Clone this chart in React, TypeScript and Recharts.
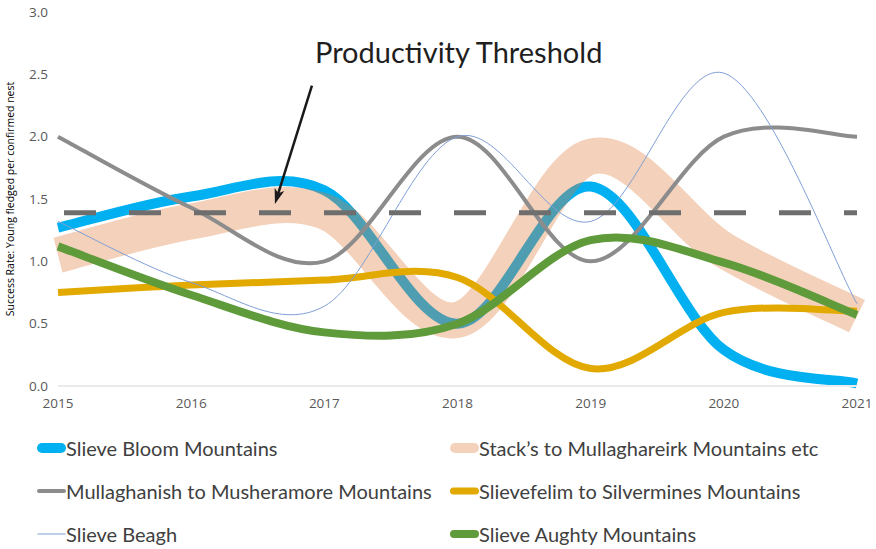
import { LineChart, Line, XAxis, YAxis, ReferenceLine, Label } from 'recharts';

const YEARS = [2015, 2016, 2017, 2018, 2019, 2020, 2021];
const Y_TICKS = [0, 0.5, 1, 1.5, 2, 2.5, 3];

const slieveBloom = [1.27, 1.52, 1.57, 0.5, 1.6, 0.29, 0.02];
const stacks = [1.05, 1.32, 1.4, 0.53, 1.84, 1.09, 0.56];
const mullaghanish = [2.0, 1.43, 1.0, 2.0, 1.0, 2.0, 2.0];
const slievefelim = [0.75, 0.81, 0.85, 0.87, 0.14, 0.59, 0.6];
const slieveBeagh = [1.32, 0.83, 0.64, 2.0, 1.32, 2.51, 0.66];
const slieveAughty = [1.12, 0.73, 0.43, 0.5, 1.17, 0.99, 0.57];

const THRESHOLD = 1.39;
// arrow from the annotation down to the threshold line
const ARROW = [
  { x: 2016.907, y: 2.41 },
  { x: 2016.629, y: 1.46 },
];

const SERIES = [
  { key: 'bloom', name: 'Slieve Bloom Mountains', values: slieveBloom, color: '#00B0F0', width: 10, opacity: 1 },
  { key: 'stacks', name: 'Stack’s to Mullaghareirk Mountains etc', values: stacks, color: '#E07B39', width: 36, opacity: 0.35 },
  { key: 'mull', name: 'Mullaghanish to Musheramore Mountains', values: mullaghanish, color: '#8C8C8C', width: 4, opacity: 1 },
  { key: 'felim', name: 'Slievefelim to Silvermines Mountains', values: slievefelim, color: '#E2AA00', width: 7, opacity: 1 },
  { key: 'beagh', name: 'Slieve Beagh', values: slieveBeagh, color: '#7F9FD6', width: 1, opacity: 1 },
  { key: 'aughty', name: 'Slieve Aughty Mountains', values: slieveAughty, color: '#5F9B3B', width: 8, opacity: 1 },
];

const data = YEARS.map((year, i) => {
  const row: Record<string, number> = { year };
  SERIES.forEach((s) => {
    row[s.key] = s.values[i];
  });
  return row;
});

// Excel-like smoothing (Catmull-Rom bezier)
function excelSmooth(context: any) {
  let pts: number[][] = [];
  return {
    areaStart() {},
    areaEnd() {},
    lineStart() {
      pts = [];
    },
    point(x: number, y: number) {
      pts.push([+x, +y]);
    },
    lineEnd() {
      if (!pts.length) return;
      context.moveTo(pts[0][0], pts[0][1]);
      for (let i = 0; i < pts.length - 1; i++) {
        const p0 = pts[i - 1] || pts[i];
        const p1 = pts[i];
        const p2 = pts[i + 1];
        const p3 = pts[i + 2] || p2;
        context.bezierCurveTo(
          p1[0] + (p2[0] - p0[0]) / 6,
          p1[1] + (p2[1] - p0[1]) / 6,
          p2[0] - (p3[0] - p1[0]) / 6,
          p2[1] - (p3[1] - p1[1]) / 6,
          p2[0],
          p2[1],
        );
      }
    },
  };
}

function ArrowShape(props: any) {
  const { x1, y1, x2, y2 } = props;
  const ang = Math.atan2(y2 - y1, x2 - x1);
  const len = 16;
  const spread = 0.32;
  const ax = x2 - len * Math.cos(ang - spread);
  const ay = y2 - len * Math.sin(ang - spread);
  const bx = x2 - len * Math.cos(ang + spread);
  const by = y2 - len * Math.sin(ang + spread);
  const mx = x2 - len * 0.7 * Math.cos(ang);
  const my = y2 - len * 0.7 * Math.sin(ang);
  return (
    <g>
      <line x1={x1} y1={y1} x2={mx} y2={my} stroke="#1a1a1a" strokeWidth={2.5} />
      <polygon points={`${x2},${y2} ${ax},${ay} ${mx},${my} ${bx},${by}`} fill="#1a1a1a" />
    </g>
  );
}

const legendRows = [
  [SERIES[0], SERIES[1]],
  [SERIES[2], SERIES[3]],
  [SERIES[4], SERIES[5]],
];

export default function App() {
  return (
    <div style={{ position: 'absolute', left: 0, top: 0, width: 876, height: 549, background: '#fff', fontFamily: 'Lato, sans-serif' }}>
      <LineChart width={876} height={430} data={data} margin={{ top: 12, right: 19, left: 0, bottom: 0 }}>
        <XAxis
          dataKey="year"
          type="number"
          domain={[2015, 2021]}
          ticks={YEARS}
          tick={{ fill: '#595959', fontSize: 13.5, fontFamily: 'Open Sans, sans-serif' }}
          tickLine={false}
          axisLine={{ stroke: '#ebebeb', strokeWidth: 2 }}
          tickMargin={6}
          height={44}
        />
        <YAxis
          domain={[0, 3]}
          ticks={Y_TICKS}
          tickFormatter={(v) => Number(v).toFixed(1)}
          tick={{ fill: '#595959', fontSize: 13.5, fontFamily: 'Open Sans, sans-serif' }}
          tickLine={false}
          axisLine={false}
          tickMargin={4}
          width={58}
        >
          <Label
            value="Success Rate:  Young fledged per confirmed nest"
            angle={-90}
            position="insideLeft"
            offset={10}
            style={{ textAnchor: 'middle', fill: '#000', fontSize: 10.5, fontFamily: 'Open Sans, sans-serif' }}
          />
        </YAxis>
        {SERIES.map((s) => (
          <Line
            key={s.key}
            dataKey={s.key}
            name={s.name}
            type={excelSmooth as any}
            stroke={s.color}
            strokeOpacity={s.opacity}
            strokeWidth={s.width}
            strokeLinecap="butt"
            dot={false}
            activeDot={false}
            isAnimationActive={false}
          />
        ))}
        <ReferenceLine
          y={THRESHOLD}
          stroke="#6E6E6E"
          strokeWidth={5}
          strokeDasharray="32 33"
          strokeDashoffset={59}
        />
        <ReferenceLine segment={ARROW} shape={<ArrowShape />} ifOverflow="visible" />
      </LineChart>
      <div
        style={{
          position: 'absolute',
          left: 315,
          top: 34,
          fontSize: 29,
          color: '#1f1f1f',
          whiteSpace: 'nowrap',
          lineHeight: '36px',
        }}
      >
        Productivity Threshold
      </div>
      {legendRows.map((row, r) =>
        row.map((s, c) => (
          <div
            key={s.key}
            style={{
              position: 'absolute',
              left: c === 0 ? 37 : 450,
              top: 448 + r * 43 - 14,
              height: 28,
              display: 'flex',
              alignItems: 'center',
              whiteSpace: 'nowrap',
              fontSize: 20,
              color: '#404040',
            }}
          >
            <svg width={29} height={14} style={{ display: 'block' }}>
              <line
                x1={Math.min(5, s.width / 2)}
                y1={7}
                x2={29 - Math.min(5, s.width / 2)}
                y2={7}
                stroke={s.color}
                strokeOpacity={s.opacity}
                strokeWidth={Math.min(s.width, 10)}
                strokeLinecap={s.width > 1 ? 'round' : 'butt'}
              />
            </svg>
            <span>{s.name}</span>
          </div>
        )),
      )}
    </div>
  );
}
